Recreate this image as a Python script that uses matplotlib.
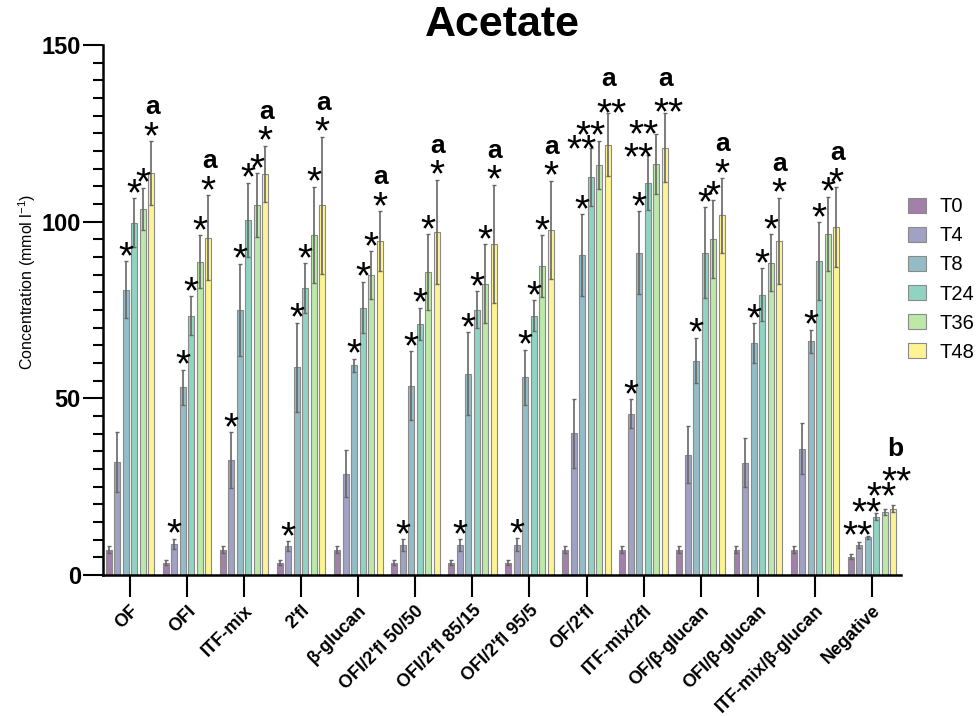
import matplotlib
matplotlib.use("Agg")
import matplotlib.pyplot as plt
import matplotlib.colors as mcolors
from matplotlib.ticker import MultipleLocator
import numpy as np

plt.rcParams["font.family"] = ["Liberation Sans", "DejaVu Sans"]
plt.rcParams["mathtext.fontset"] = "custom"
plt.rcParams["mathtext.rm"] = "Liberation Sans"

# substrates on the x axis
grupos = ["OF", "OFI", "ITF-mix", "2'fl", "β-glucan", "OFI/2'fl 50/50",
          "OFI/2'fl 85/15", "OFI/2'fl 95/5", "OF/2'fl", "ITF-mix/2fl",
          "OF/β-glucan", "OFI/β-glucan", "ITF-mix/β-glucan", "Negative"]
tiempos = ["T0", "T4", "T8", "T24", "T36", "T48"]

# mean acetate (mmol/l) per sampling time
t0 = [7.1, 3.5, 7.1, 3.5, 7.1, 3.5, 3.5, 3.5, 7.1, 7.1, 7.1, 7.1, 7.1, 5.2]
t4 = [32.1, 8.8, 32.5, 8.2, 28.7, 8.4, 8.4, 8.6, 40.1, 45.7, 34.1, 31.8, 35.8, 8.4]
t8 = [80.8, 53.1, 75.1, 58.8, 59.3, 53.6, 57.0, 55.9, 90.6, 91.2, 60.7, 65.7, 66.1, 10.7]
t24 = [99.7, 73.4, 100.5, 81.2, 75.7, 71.1, 75.1, 73.4, 112.6, 111.0, 91.2, 79.3, 88.8, 16.5]
t36 = [103.6, 88.6, 104.7, 96.3, 84.9, 85.8, 82.4, 87.4, 116.0, 116.3, 95.1, 88.4, 96.5, 17.8]
t48 = [113.8, 95.5, 113.5, 104.6, 94.4, 97.1, 93.8, 97.7, 121.8, 120.9, 101.8, 94.6, 98.5, 18.8]

# standard deviations
e0 = [1.0, 0.8, 1.0, 0.8, 1.0, 0.8, 0.8, 0.8, 1.0, 1.0, 1.0, 1.0, 1.0, 0.7]
e4 = [8.5, 1.5, 8.0, 1.4, 6.6, 1.7, 1.7, 1.8, 9.8, 4.0, 8.0, 7.0, 7.3, 0.8]
e8 = [8.0, 5.0, 13.0, 12.6, 1.9, 9.7, 11.8, 7.9, 11.5, 11.8, 6.5, 5.6, 3.3, 0.4]
e24 = [7.0, 5.5, 10.5, 7.0, 7.3, 4.6, 5.2, 4.3, 8.3, 7.8, 12.9, 7.5, 11.0, 1.0]
e36 = [6.0, 7.5, 9.0, 13.6, 6.7, 10.7, 11.2, 8.7, 6.8, 8.4, 11.0, 8.0, 10.6, 0.8]
e48 = [9.0, 12.0, 8.0, 19.5, 8.5, 14.8, 16.7, 13.9, 8.9, 9.8, 10.6, 12.2, 11.2, 1.0]

# significance vs T0 for each bar, and letter for T48
s_uno = ["", "*", "*", "*", "*", "*"]
s_dos = ["", "", "*", "*", "*", "*"]
signos = [s_dos, s_uno, s_uno, s_uno, s_dos, s_uno, s_uno, s_uno,
          ["", "", "*", "**", "**", "**"],
          ["", "*", "*", "**", "**", "**"],
          s_dos, s_dos, s_dos,
          ["", "**", "**", "", "**", "**"]]
letras = ["a"] * 13 + ["b"]

medias = [t0, t4, t8, t24, t36, t48]
errores = [e0, e4, e8, e24, e36, e48]

# pastel viridis
base = plt.cm.viridis(np.linspace(0, 1, 6))
colores = [tuple(0.5 * np.array(mcolors.to_rgb(c)) + 0.5) for c in base]

fig = plt.figure(figsize=(9.76, 7.16), dpi=100)
ax = fig.add_axes([103 / 976, 141 / 716, 798 / 976, 530 / 716])

x = np.arange(len(grupos))
paso = 0.149
ancho = 0.105
barras = []
tops = []
for i, (m, e) in enumerate(zip(medias, errores)):
    xi = x + (i - 2.5) * paso
    b = ax.bar(xi, m, width=ancho, color=colores[i], edgecolor="#8a8a8a",
               linewidth=0.8, label=tiempos[i], zorder=2)
    ax.errorbar(xi, m, yerr=e, fmt="none", ecolor="#666666", elinewidth=1.2,
                capsize=1.5, capthick=1.0, zorder=3)
    barras.append(b)
    tops.append(np.array(m) + np.array(e))

# asterisks: (dx, dy) in pixels of the star centre above the error bar
star_dy = 15
star_shift = {(8, 3): (-9, 8), (8, 4): (-9, 16), (8, 5): (4, 10),
              (9, 3): (-9, 8), (9, 4): (-13, 10), (9, 5): (4, 11),
              (13, 1): (-2, 17), (13, 2): (-1, 33), (13, 4): (-3, 23),
              (13, 5): (3, 34)}
star_size = 28
star_mid = 0.565 * star_size * 100 / 72
letter_shift = {13: (2, 49)}

for g in range(len(grupos)):
    for i in range(6):
        txt = signos[g][i]
        if not txt:
            continue
        dx, dy = star_shift.get((g, i), (0, star_dy))
        ax.annotate(txt, xy=(x[g] + (i - 2.5) * paso, tops[i][g]),
                    xytext=(dx, dy - star_mid), textcoords="offset pixels",
                    ha="center", va="baseline", fontsize=star_size, zorder=4)
    dx, dy = letter_shift.get(g, (1, 27))
    ax.annotate(letras[g], xy=(x[g] + 2.5 * paso, tops[5][g]),
                xytext=(dx, dy), textcoords="offset pixels",
                ha="center", va="baseline", fontsize=19, fontweight="bold")

ax.set_xlim(-0.473, 13.51)
ax.set_ylim(0, 150)
ax.set_yticks([0, 50, 100, 150])
ax.yaxis.set_minor_locator(MultipleLocator(5))
ax.set_xticks(x)
ax.set_xticklabels(grupos, rotation=45, ha="right", va="top",
                   rotation_mode="anchor", fontsize=13, fontweight="bold")
for lab in ax.get_yticklabels():
    lab.set_fontweight("bold")

for lado in ["top", "right"]:
    ax.spines[lado].set_visible(False)
for lado in ["left", "bottom"]:
    ax.spines[lado].set_linewidth(1.8)

ax.tick_params(axis="y", which="major", length=14.4, width=1.5, labelsize=17, pad=1.5)
ax.tick_params(axis="y", which="minor", length=7.2, width=1.5)
ax.tick_params(axis="x", which="major", length=15.6, width=1.5, pad=4)

ax.set_title("Acetate", fontsize=31, fontweight="bold", pad=5)
fig.text(27 / 976, 1 - 282 / 716, r"Concentration (mmol l$^{-1}$)",
         rotation=90, ha="center", va="center", fontsize=11.5)

ax.legend(handles=barras, loc="center left", bbox_to_anchor=(908 / 976, 0.6096),
          bbox_transform=fig.transFigure, frameon=False, fontsize=14.5,
          handlelength=0.9, handleheight=0.75, handletextpad=0.65,
          labelspacing=0.5, borderpad=0, borderaxespad=0)

fig.savefig("out.png", dpi=100)
